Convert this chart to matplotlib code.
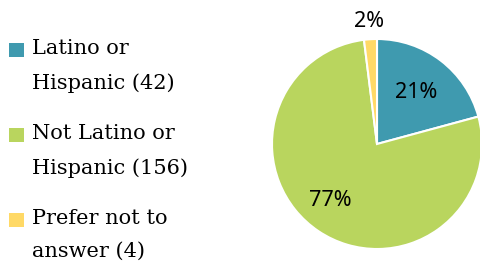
import matplotlib
matplotlib.use('Agg')
import matplotlib.pyplot as plt
from matplotlib.patches import Rectangle
import numpy as np

labels = ["Latino or\nHispanic (42)", "Not Latino or\nHispanic (156)", "Prefer not to\nanswer (4)"]
counts = [42, 156, 4]
colors = ['#3F9AAF', '#B9D55E', '#FFD966']
label_dist = [0.62, 0.70, 1.17]

W, H = 481, 273
fig = plt.figure(figsize=(W/100, H/100), dpi=100)
ax = fig.add_axes([272/W, 24/H, 210/W, 210/H])

wedges, texts, autotexts = ax.pie(
    counts, colors=colors, startangle=90, counterclock=False, radius=1.0,
    autopct=lambda p: f"{p:.0f}%",
    wedgeprops=dict(edgecolor='white', linewidth=1.5),
    textprops=dict(fontsize=15.5, family='Noto Sans', color='black'))
ax.set_xlim(-1.0, 1.0)
ax.set_ylim(-1.0, 1.0)
ax.set_aspect('equal')

# percentage labels placed roughly like the original
for i, (w, t, d) in enumerate(zip(wedges, autotexts, label_dist)):
    mid = (w.theta1 + w.theta2) / 2
    if i == 1:
        mid -= 6
    mid = np.deg2rad(mid)
    t.set_position((d * np.cos(mid), d * np.sin(mid)))
    t.set_clip_on(False)

# hand-made legend (two-line entries, square next to first line)
tops = [43, 128, 213]
for lab, c, top in zip(labels, colors, tops):
    fig.add_artist(Rectangle((9/W, 1 - (top + 14)/H), 15/W, 14/H,
                             transform=fig.transFigure, facecolor=c, edgecolor='none'))
    fig.text(32/W, 1 - (top - 4)/H, lab, ha='left', va='top',
             family='DejaVu Serif', fontsize=15, linespacing=1.95)

fig.savefig('out.png', dpi=100)
